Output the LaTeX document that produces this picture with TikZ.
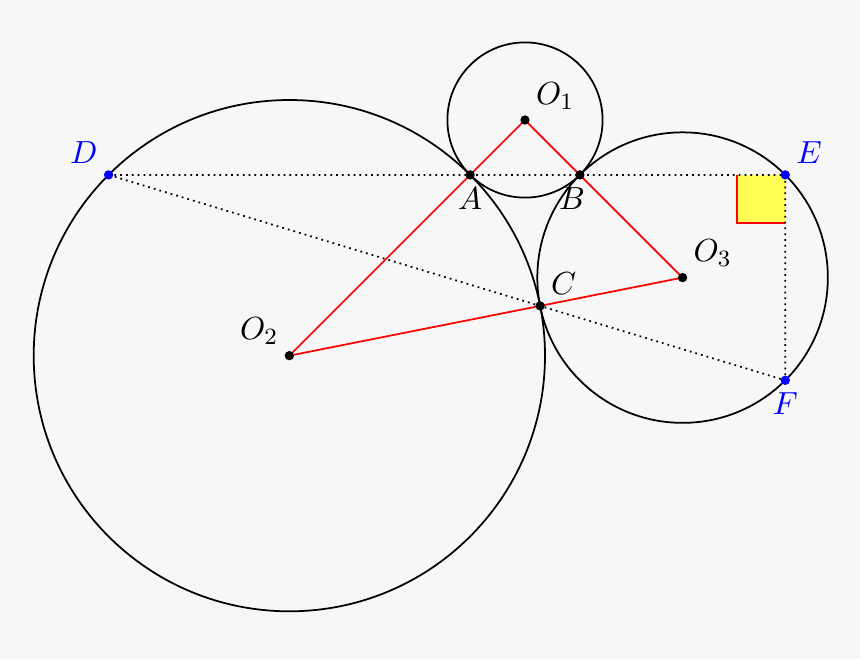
\documentclass[tikz,border=0pt]{standalone}
\usepackage{xcolor}
\usepackage{tikz}
\usepackage{amsmath}
\definecolor{bgcol}{RGB}{247,247,247}
\definecolor{markfill}{RGB}{255,255,85}

\begin{document}
\begin{tikzpicture}[
  pt/.style={circle, fill=black, inner sep=0pt, minimum size=3.2pt},
  bpt/.style={pt, fill=blue},
  dotline/.style={dash pattern=on 0.6pt off 1.4pt, line width=0.6pt},
  every label/.style={inner sep=2.3pt, font=\fontsize{10.95}{13.6}\selectfont},
  ]
  \fill[bgcol] (0, 0) rectangle (10.361, 7.940);
  \useasboundingbox (0, 0) rectangle (10.361, 7.940);
  % centres and points of contact
  \coordinate (O1) at (6.325, 6.494);
  \coordinate (O2) at ([shift={(225:4.015)}]O1);
  \coordinate (O3) at ([shift={(-45:2.685)}]O1);
  \coordinate (A) at ([shift={(225:0.935)}]O1);
  \coordinate (B) at ([shift={(-45:0.935)}]O1);
  \coordinate (C) at ([shift={(11.227:3.08)}]O2);
  \coordinate (D) at ([shift={(135:3.08)}]O2);
  \coordinate (E) at ([shift={(45:1.75)}]O3);
  \coordinate (F) at ([shift={(-45:1.75)}]O3);
  % circles
  \draw[line width=0.6pt] (O1) circle (0.935);
  \draw[line width=0.6pt] (O2) circle (3.08);
  \draw[line width=0.6pt] (O3) circle (1.75);
  % right angle at E
  \fill[markfill] ([shift={(-0.58,-0.58)}]E) rectangle (E);
  \draw[red, line width=0.8pt] ([xshift=-0.58cm]E) -- ([shift={(-0.58,-0.58)}]E) -- ([yshift=-0.58cm]E);
  % triangle of centres
  \draw[red, line width=0.6pt] (O2) -- (O1) -- (O3) -- cycle;
  \draw[dotline] (D) -- (E) -- (F) -- cycle;
  % points
  \node[pt, label={above right:$O_1$}] (p1) at (O1) {};
  \node[pt, label={above left:$O_2$}] (p2) at (O2) {};
  \node[pt, label={above right:$O_3$}] (p3) at (O3) {};
  \node[pt, label={below:$A$}] (pa) at (A) {};
  \node[pt, label={[xshift=-2.7pt]below:$B$}] (pb) at (B) {};
  \node[pt, label={above right:$C$}] (pc) at (C) {};
  \node[bpt, label={[blue]above left:$D$}] (pd) at (D) {};
  \node[bpt, label={[blue]above right:$E$}] (pe) at (E) {};
  \node[bpt, label={[blue]below:$F$}] (pf) at (F) {};
\end{tikzpicture}
\end{document}
